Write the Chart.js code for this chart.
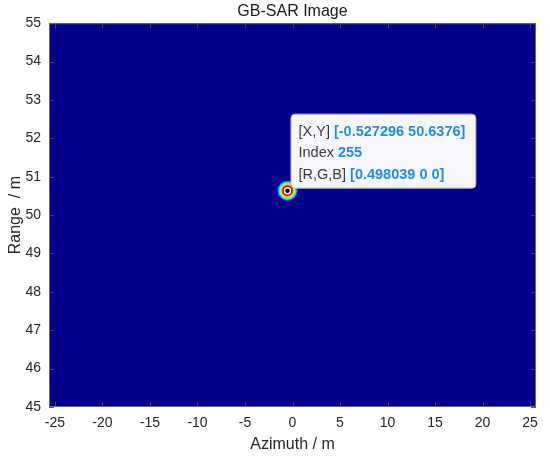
<!DOCTYPE html>
<html>
<head>
<meta charset="utf-8">
<script src="https://cdn.jsdelivr.net/npm/chart.js@4/dist/chart.umd.min.js"></script>
<style>
  html, body { margin: 0; padding: 0; background: #fff; }
  #wrap { width: 550px; height: 458px; }
</style>
</head>
<body>
<div id="wrap"><canvas id="sarImage" width="550" height="458"></canvas></div>
<script>
// axis extents and ticks (metres)
const xRange = [-25.63, 25.63];
const yRange = [45, 55];
const xTicks = [-25, -20, -15, -10, -5, 0, 5, 10, 15, 20, 25];
const yTicks = [45, 46, 47, 48, 49, 50, 51, 52, 53, 54, 55];

// the single bright target and its intensity rings (normalised 0..1)
const peakX = [-0.527296];
const peakY = [50.6376];
const ringLevels = [0.25, 0.35, 0.5, 0.65, 0.78, 0.9, 1.0];

// datatip text
const tipLabels = ['[X,Y] ', 'Index ', '[R,G,B] '];
const tipValues = ['[-0.527296 50.6376]', '255', '[0.498039 0 0]'];

// matlab jet colormap
function jet(v) {
  const c = x => Math.round(255 * Math.max(0, Math.min(1, x)));
  const r = 1.5 - Math.abs(4 * v - 3);
  const g = 1.5 - Math.abs(4 * v - 2);
  const b = 1.5 - Math.abs(4 * v - 1);
  return 'rgb(' + c(r) + ',' + c(g) + ',' + c(b) + ')';
}

const ringSizes = [10, 9, 8, 7, 6, 5, 4.2];
const datasets = ringLevels.map((lvl, i) => ({
  type: 'scatter',
  data: [{ x: peakX[0], y: peakY[0] }],
  pointRadius: ringSizes[i],
  pointBackgroundColor: jet(lvl),
  pointBorderWidth: 0,
  order: 10 - i
}));
// datatip marker
datasets.push({
  type: 'scatter',
  data: [{ x: peakX[0], y: peakY[0] }],
  pointRadius: 3,
  pointBackgroundColor: '#000',
  pointBorderColor: '#fff',
  pointBorderWidth: 1.5,
  order: 0
});

const FONT = '"Liberation Sans", Arial, sans-serif';

const imagePlugin = {
  id: 'imageBg',
  beforeDatasetsDraw(chart) {
    const a = chart.chartArea, ctx = chart.ctx;
    ctx.save();
    ctx.fillStyle = '#00008b';
    ctx.fillRect(a.left, a.top, a.right - a.left, a.bottom - a.top);
    ctx.restore();
  },
  afterDatasetsDraw(chart) {
    const a = chart.chartArea, ctx = chart.ctx;
    const xs = chart.scales.x, ys = chart.scales.y;
    ctx.save();
    // inward ticks
    ctx.strokeStyle = 'rgba(70,70,100,0.9)';
    ctx.lineWidth = 1;
    ctx.beginPath();
    xTicks.forEach(v => {
      const px = Math.round(xs.getPixelForValue(v)) + 0.5;
      ctx.moveTo(px, a.bottom); ctx.lineTo(px, a.bottom - 5);
      ctx.moveTo(px, a.top); ctx.lineTo(px, a.top + 5);
    });
    yTicks.forEach(v => {
      const py = Math.round(ys.getPixelForValue(v)) + 0.5;
      ctx.moveTo(a.left, py); ctx.lineTo(a.left + 5, py);
      ctx.moveTo(a.right, py); ctx.lineTo(a.right - 5, py);
    });
    ctx.stroke();
    // axes box
    ctx.strokeStyle = '#6a6a6a';
    ctx.strokeRect(a.left + 0.5, a.top + 0.5, a.right - a.left - 1, a.bottom - a.top - 1);

    // datatip
    const px = xs.getPixelForValue(peakX[0]);
    const py = ys.getPixelForValue(peakY[0]);
    const normal = '14.5px ' + FONT;
    const bold = 'bold 14.5px ' + FONT;
    let w = 0;
    tipLabels.forEach((t, i) => {
      ctx.font = normal; const w1 = ctx.measureText(t).width;
      ctx.font = bold; const w2 = ctx.measureText(tipValues[i]).width;
      w = Math.max(w, w1 + w2);
    });
    const bw = w + 18, bh = 74;
    const bx = px + 3, by = py - 3 - bh;
    ctx.beginPath();
    ctx.roundRect(bx + 0.5, by + 0.5, bw, bh, 4);
    ctx.fillStyle = 'rgba(250,250,252,0.98)';
    ctx.fill();
    ctx.strokeStyle = '#b8b8b8';
    ctx.stroke();
    ctx.textBaseline = 'middle';
    ctx.textAlign = 'left';
    tipLabels.forEach((t, i) => {
      const ty = by + 18 + i * 21.5;
      ctx.font = normal; ctx.fillStyle = '#3c3c3c';
      ctx.fillText(t, bx + 8, ty);
      const w1 = ctx.measureText(t).width;
      ctx.font = bold; ctx.fillStyle = '#1f8fe5';
      ctx.fillText(tipValues[i], bx + 8 + w1, ty);
    });
    ctx.restore();
  }
};

new Chart(document.getElementById('sarImage'), {
  type: 'scatter',
  data: { datasets: datasets },
  plugins: [imagePlugin],
  options: {
    animation: false,
    responsive: false,
    devicePixelRatio: 1,
    layout: { padding: { top: 0, right: 14, left: 0, bottom: 0 } },
    plugins: {
      legend: { display: false },
      tooltip: { enabled: false },
      title: {
        display: true,
        text: 'GB-SAR Image',
        fullSize: false,
        color: '#1a1a1a',
        font: { family: FONT, size: 16, weight: 'normal' },
        padding: { top: 2, bottom: 2 }
      }
    },
    scales: {
      x: {
        type: 'linear',
        min: xRange[0],
        max: xRange[1],
        afterBuildTicks: s => { s.ticks = xTicks.map(v => ({ value: v })); },
        afterFit: s => { s.height = 51; },
        grid: { display: false, drawTicks: false, tickLength: 0 },
        border: { display: false },
        ticks: {
          color: '#262626',
          padding: 8,
          maxRotation: 0,
          font: { family: FONT, size: 14 }
        },
        title: {
          display: true,
          text: 'Azimuth / m',
          color: '#262626',
          font: { family: FONT, size: 16 },
          padding: { top: 0, bottom: 4 }
        }
      },
      y: {
        type: 'linear',
        min: yRange[0],
        max: yRange[1],
        afterBuildTicks: s => { s.ticks = yTicks.map(v => ({ value: v })); },
        afterFit: s => { s.width = 49; },
        grid: { display: false, drawTicks: false, tickLength: 0 },
        border: { display: false },
        ticks: {
          color: '#262626',
          padding: 8,
          font: { family: FONT, size: 14 }
        },
        title: {
          display: true,
          text: 'Range  / m',
          color: '#262626',
          font: { family: FONT, size: 16 },
          padding: { top: 6, bottom: 0 }
        }
      }
    }
  }
});
</script>
</body>
</html>
